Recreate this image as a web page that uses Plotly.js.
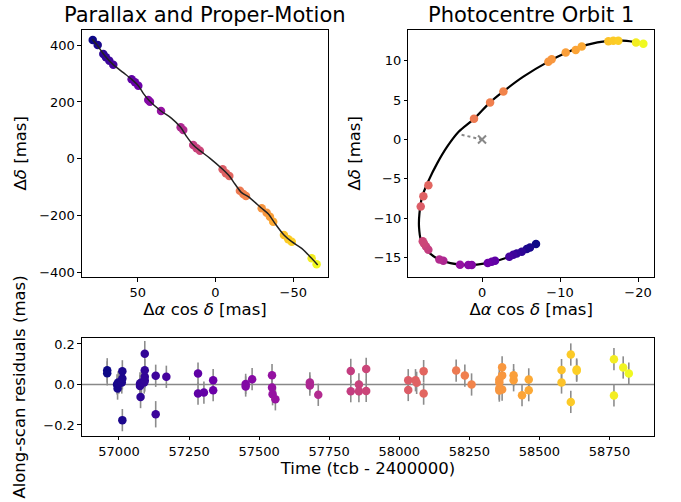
<!DOCTYPE html>
<html>
<head>
<meta charset="utf-8">
<script src="https://cdn.plot.ly/plotly-3.0.1.min.js"></script>
<style>html,body{margin:0;padding:0;background:#fff;}#chart{width:681px;height:502px;}</style>
</head>
<body>
<div id="chart"></div>
<script>
// ---- Along-scan residuals (bottom panel) ----
var resTime = [56958,56958,56993,56995,56997,57000,57010,57012,57012,57012,
  57075,57075,57077,57080,57090,57092,57092,57092,57092,57131,57131,57169,
  57282,57282,57303,57336,57336,57452,57452,57475,57546,57546,57548,57558,
  57681,57681,57711,57827,57827,57856,57856,57882,57882,
  58032,58032,58058,58062,58087,58087,58203,58234,58258,
  58357,58357,58357,58357,58367,58367,58367,58408,58408,58438,58462,58462,
  58579,58579,58612,58612,58633,58633,58766,58766,58799,58819];
var resValue = [0.070,0.055,0.000,-0.020,0.010,0.005,0.010,0.030,0.065,-0.176,
  0.005,-0.008,-0.062,0.010,0.010,0.020,0.038,0.070,0.152,0.043,-0.147,0.038,
  0.054,-0.045,-0.040,0.021,-0.028,0.003,-0.010,0.026,0.046,-0.015,-0.048,-0.073,
  0.010,-0.005,-0.051,0.067,-0.033,0.000,-0.033,0.077,-0.032,
  0.021,-0.027,0.021,0.008,0.066,-0.045,0.069,0.044,0.000,
  0.025,0.010,-0.020,-0.030,0.085,0.045,-0.025,0.046,0.021,-0.053,0.025,-0.028,
  0.071,0.010,0.148,-0.086,0.074,0.068,0.125,-0.054,0.084,0.054];
var resError = [0.060,0.060,0.050,0.055,0.055,0.050,0.055,0.055,0.055,0.055,
  0.055,0.055,0.055,0.055,0.055,0.055,0.055,0.055,0.063,0.055,0.065,0.055,
  0.055,0.055,0.055,0.055,0.055,0.050,0.050,0.055,0.055,0.055,0.055,0.055,
  0.050,0.050,0.055,0.060,0.055,0.055,0.055,0.055,0.055,
  0.055,0.055,0.055,0.055,0.055,0.055,0.055,0.055,0.055,
  0.050,0.050,0.055,0.055,0.055,0.055,0.055,0.055,0.055,0.055,0.055,0.055,
  0.055,0.055,0.055,0.055,0.055,0.055,0.055,0.055,0.055,0.055];

// ---- Parallax + proper motion track (top-left) ----
var pmTime = [56958,57000,57076,57092,57131,57169,57282,57303,57336,57452,57475,57548,
  57681,57711,57827,57856,57882,58032,58060,58087,58203,58234,58258,58357,58367,
  58408,58462,58579,58612,58633,58766,58819];
var pmRA = [78.9,75.7,72.1,70.4,68.2,65.7,53.9,51.7,49.6,43.2,42.1,35.0,22.4,20.7,
  14.3,12.1,10.0,-4.6,-6.7,-8.9,-15.7,-17.9,-19.6,-29.7,-32.9,-35.0,-37.1,-44.0,
  -46.8,-49.0,-61.8,-65.0];
var pmDec = [418.7,401,369,357.6,345.7,331.5,280,269.4,257.5,207,201,168,110.7,101,
  48.2,36.6,28,-37.5,-51.7,-61.2,-113,-124.7,-131.8,-175,-190.7,-204.8,-222.4,
  -269.4,-284.5,-293,-351.6,-372.8];
var trackRA = [79.2,75.3,71.0,65.7,59.2,53.9,49.6,46.4,42.5,35.0,28.2,22.4,18.5,14.3,
  10.0,3.5,-4.6,-8.9,-12.5,-16.8,-21.1,-29.7,-34.0,-38.2,-44.0,-49.0,-55.4,-61.8,-65.7];
var trackDec = [421,395.2,362.2,331.7,303.4,280,257.6,230.5,204.6,168.2,142.3,110.6,
  77.6,48.2,28.2,1.2,-37.5,-61.2,-89.4,-120,-134.1,-175,-195.3,-228.2,-269.4,-293,
  -316.4,-351.7,-375.2];

// ---- Photocentre orbit (top-right) ----
var orbTime = [56958,57000,57010,57076,57092,57131,57169,57282,57303,57336,57452,57475,
  57548,57681,57711,57827,57856,57882,57890,58032,58060,58087,58203,58234,58258,
  58357,58367,58408,58438,58462,58579,58612,58633,58766,58819];
var orbX = [-6.92,-6.15,-5.73,-5.09,-4.45,-4.01,-3.5,-1.67,-1.24,-0.73,1.32,1.76,2.82,
  4.96,5.47,6.88,7.18,7.44,7.6,7.86,7.52,6.88,1.03,-1.03,-2.74,-8.5,-8.93,-10.73,
  -12.01,-12.78,-16.2,-16.83,-17.47,-19.74,-20.68];
var orbY = [-13.27,-13.7,-13.9,-14.25,-14.46,-14.63,-14.89,-15.4,-15.52,-15.69,-15.94,
  -15.94,-15.9,-15.4,-15.23,-13.99,-13.6,-13.19,-12.93,-8.51,-7.19,-5.79,2.63,4.72,
  6.12,9.9,10.2,11.05,11.39,11.81,12.5,12.54,12.54,12.32,12.16];
var orbitCurveX = [-6.92,-3.55,-0.64,1.92,4.06,5.77,7.05,7.82,8.08,8.03,7.69,6.84,5.77,
  4.49,3.0,1.03,-1.03,-2.74,-5.3,-8.5,-10.85,-13.42,-16.2,-18.55,-20.68];
var orbitCurveY = [-13.27,-14.89,-15.69,-15.94,-15.7,-15.1,-14.1,-12.82,-11.1,-9.44,
  -7.31,-5.19,-3.06,-0.94,0.98,2.63,4.72,6.12,7.99,9.9,11.05,12.03,12.54,12.54,12.16];
var centreX = [0], centreY = [0];
var periX = [0, 2.8], periY = [0, 0.65];

var titles = ["Parallax and Proper-Motion", "Photocentre Orbit 1"];
var xTitleSky = "Δ<i>α</i> cos <i>δ</i> [mas]";
var yTitleSky = "Δ<i>δ</i> [mas]";
var xTitleTime = "Time (tcb - 2400000)";
var yTitleRes = "Along-scan residuals (mas)";

// matplotlib "plasma" colormap samples
var plasmaStops = [0, 0.1, 0.2, 0.3, 0.4, 0.5, 0.6, 0.7, 0.8, 0.9, 1];
var plasmaColors = ['#0d0887','#41049d','#6a00a8','#8f0da4','#b12a90','#cc4778',
  '#e16462','#f2844b','#fca636','#fcce25','#f0f921'];
var plasma = plasmaStops.map(function (s, i) { return [s, plasmaColors[i]]; });

var tMin = 56958, tMax = 58819;
var FONT = "DejaVu Sans, sans-serif";

function mk(t) {
  return {size: 8.5, color: t, colorscale: plasma, cmin: tMin, cmax: tMax, showscale: false, line: {width: 0}};
}

var traces = [
  {x: pmRA, y: pmDec, type: 'scatter', mode: 'markers', marker: mk(pmTime), xaxis: 'x', yaxis: 'y'},
  {x: trackRA, y: trackDec, type: 'scatter', mode: 'lines', line: {color: '#222', width: 1.5, shape: 'spline', smoothing: 0.8}, xaxis: 'x', yaxis: 'y'},
  {x: orbitCurveX, y: orbitCurveY, type: 'scatter', mode: 'lines', line: {color: '#000', width: 2.2, shape: 'spline', smoothing: 1}, xaxis: 'x2', yaxis: 'y2'},
  {x: periX, y: periY, type: 'scatter', mode: 'lines', line: {color: '#888', width: 2, dash: 'dot'}, xaxis: 'x2', yaxis: 'y2'},
  {x: centreX, y: centreY, type: 'scatter', mode: 'markers', marker: {symbol: 'x-thin', size: 8, line: {color: '#888', width: 2}}, xaxis: 'x2', yaxis: 'y2'},
  {x: orbX, y: orbY, type: 'scatter', mode: 'markers', marker: mk(orbTime), xaxis: 'x2', yaxis: 'y2'},
  {x: [tMin - 200, tMax + 200], y: [0, 0], type: 'scatter', mode: 'lines', line: {color: '#888', width: 1.5}, xaxis: 'x3', yaxis: 'y3'},
  {x: resTime, y: resValue, type: 'scatter', mode: 'markers', marker: mk(resTime),
   error_y: {type: 'data', array: resError, visible: true, color: '#8c8c8c', thickness: 1.6, width: 0},
   xaxis: 'x3', yaxis: 'y3'}
];

function ax(extra) {
  var base = {
    showgrid: false, zeroline: false, showline: true, mirror: true,
    linecolor: '#000', linewidth: 1, ticks: 'outside', ticklen: 3.5, tickwidth: 1,
    tickcolor: '#000', tickfont: {family: FONT, size: 13, color: '#000'}
  };
  for (var k in extra) base[k] = extra[k];
  return base;
}

var layout = {
  width: 681, height: 502,
  margin: {l: 0, r: 0, t: 0, b: 0},
  paper_bgcolor: '#fff', plot_bgcolor: '#fff',
  showlegend: false,
  font: {family: FONT, color: '#000'},
  xaxis: ax({domain: [0.1204, 0.4816], anchor: 'y', range: [85.8, -72.3],
    tickvals: [50, 0, -50], title: {text: xTitleSky, font: {size: 16.5}, standoff: 4}}),
  yaxis: ax({domain: [0.4482, 0.9412], anchor: 'x', range: [-417.6, 455.7],
    tickvals: [400, 200, 0, -200, -400], title: {text: yTitleSky, font: {size: 16.5}, standoff: 8}}),
  xaxis2: ax({domain: [0.5996, 0.9604], anchor: 'y2', range: [9.45, -22.05],
    tickvals: [0, -10, -20], title: {text: xTitleSky, font: {size: 16.5}, standoff: 4}}),
  yaxis2: ax({domain: [0.4482, 0.9412], anchor: 'x2', range: [-17.46, 13.98],
    tickvals: [10, 5, 0, -5, -10, -15], title: {text: yTitleSky, font: {size: 16.5}, standoff: 9}}),
  xaxis3: ax({domain: [0.1204, 0.9604], anchor: 'y3', range: [56868, 58909],
    tickvals: [57000, 57250, 57500, 57750, 58000, 58250, 58500, 58750], tickformat: 'd',
    title: {text: xTitleTime, font: {size: 16.5}, standoff: 3}}),
  yaxis3: ax({domain: [0.1315, 0.3267], anchor: 'x3', range: [-0.2543, 0.2296],
    tickvals: [0.2, 0.0, -0.2], tickformat: '.1f', title: {text: yTitleRes, font: {size: 16.5}, standoff: 13}}),
  annotations: [
    {text: titles[0], xref: 'paper', yref: 'paper', x: (0.1204 + 0.4816) / 2, y: 1 - 15 / 502,
     xanchor: 'center', yanchor: 'middle', showarrow: false, font: {family: FONT, size: 21, color: '#000'}},
    {text: titles[1], xref: 'paper', yref: 'paper', x: (0.5996 + 0.9604) / 2, y: 1 - 15 / 502,
     xanchor: 'center', yanchor: 'middle', showarrow: false, font: {family: FONT, size: 21, color: '#000'}}
  ]
};

Plotly.newPlot('chart', traces, layout, {staticPlot: true, displayModeBar: false});
</script>
</body>
</html>
